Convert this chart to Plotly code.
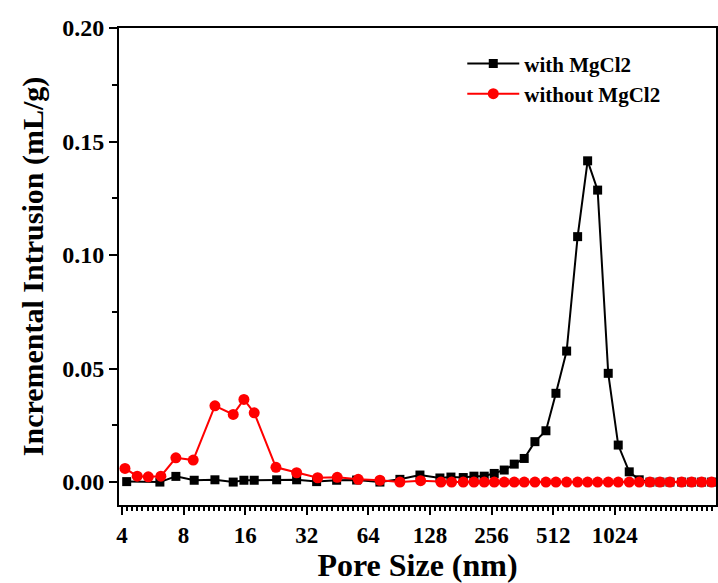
import numpy as np
import plotly.graph_objects as go

# Pore sizes (nm) and incremental intrusion (mL/g)
x_with = [4.22, 6.13, 7.34, 9.02, 11.39, 13.99, 15.78, 17.72, 22.81, 28.56, 35.77, 44.8,
          56.1, 72.9, 91.3, 114.4, 143.2, 162.1, 186.2, 210.0, 235.8, 263.9, 295.3, 330.5,
          369.8, 417.2, 472.1, 528.4, 596.0, 674.5, 754.8, 844.8, 951.8, 1065, 1205.5, 1349,
          1521.7, 1703, 1905.7, 2173.8, 2433, 2722, 3047]
y_with = [0.0002, 0.0000, 0.0025, 0.0008, 0.0010, 0.0000, 0.0008, 0.0008, 0.0010, 0.0010, 0.0002, 0.0008,
          0.0009, 0.0000, 0.0012, 0.0031, 0.0018, 0.0022, 0.0020, 0.0026, 0.0026, 0.0038, 0.0053, 0.0079,
          0.0104, 0.0178, 0.0226, 0.0391, 0.0577, 0.1081, 0.1415, 0.1286, 0.0479, 0.0163, 0.0045, 0.0010,
          0.0, 0.0, 0.0, 0.0, 0.0, 0.0, 0.0]

x_without = [4.14, 4.75, 5.38, 6.20, 7.34, 8.92, 11.39, 13.99, 15.78, 17.72, 22.63, 28.56, 36.18,
             45.10, 57.12, 72.9, 91.3, 115.3, 144.9, 163.4, 186.2, 210.0, 235.8, 263.9, 295.3,
             330.5, 369.8, 417.2, 472.1, 528.4, 596.0, 674.5, 754.8, 844.8, 951.8, 1065, 1205.5,
             1349, 1521.7, 1703, 1905.7, 2173.8, 2433, 2722, 3047]
y_without = [0.0060, 0.0026, 0.0023, 0.0026, 0.0107, 0.0097, 0.0336, 0.0298, 0.0364, 0.0305, 0.0065, 0.0041, 0.0019,
             0.0021, 0.0012, 0.0008, 0.0000, 0.0006, 0.0000, 0.0, 0.0, 0.0, 0.0, 0.0, 0.0,
             0.0, 0.0, 0.0, 0.0, 0.0, 0.0, 0.0, 0.0, 0.0, 0.0, 0.0, 0.0,
             0.0, 0.0, 0.0, 0.0, 0.0, 0.0, 0.0, 0.0]

x_ticks = [4, 8, 16, 32, 64, 128, 256, 512, 1024]
x_ticklabels = ["4", "8", "16", "32", "64", "128", "256", "512", "1024"]
y_ticks = [0.00, 0.05, 0.10, 0.15, 0.20]

FONT = "Liberation Serif"

fig = go.Figure()
fig.add_trace(go.Scatter(
    x=x_with, y=y_with, mode="lines+markers", name="with MgCl2",
    line=dict(color="black", width=2),
    marker=dict(symbol="square", size=9, color="black"),
))
fig.add_trace(go.Scatter(
    x=x_without, y=y_without, mode="lines+markers", name="without MgCl2",
    line=dict(color="#ff0000", width=2),
    marker=dict(symbol="circle", size=11, color="#ff0000"),
))

fig.update_layout(
    width=718, height=583,
    margin=dict(l=119, r=2, t=28, b=78),
    paper_bgcolor="white", plot_bgcolor="white",
    font=dict(family=FONT, color="black"),
    showlegend=True,
    legend=dict(
        x=0.575, y=0.968, xanchor="left", yanchor="top",
        bgcolor="rgba(0,0,0,0)",
        font=dict(family=FONT, size=21, color="black", weight="bold"),
        itemwidth=52, tracegroupgap=0,
    ),
)

fig.update_xaxes(
    type="log",
    range=[np.log10(3.87), np.log10(3200)],
    tickmode="array", tickvals=x_ticks, ticktext=x_ticklabels,
    ticks="outside", ticklen=8, tickwidth=2, tickcolor="black",
    showline=True, linecolor="black", linewidth=2, mirror=True,
    showgrid=False, zeroline=False, automargin=False,
    tickfont=dict(family=FONT, size=23, color="black", weight="bold"),
    minor=dict(tick0=np.log10(4), dtick=np.log10(2) / 12, ticks="outside", ticklen=4,
               tickwidth=1.5, tickcolor="black", showgrid=False),
    title=dict(text="Pore Size (nm)", font=dict(family=FONT, size=32, color="black", weight="bold"),
               standoff=6),
)

fig.update_yaxes(
    range=[-0.0101, 0.2],
    tickmode="array", tickvals=y_ticks, tickformat=".2f",
    ticks="outside", ticklen=8, tickwidth=2, tickcolor="black",
    showline=True, linecolor="black", linewidth=2, mirror=True,
    showgrid=False, zeroline=False, automargin=False,
    tickfont=dict(family=FONT, size=24, color="black", weight="bold"),
    minor=dict(tickmode="array", tickvals=[0.025, 0.075, 0.125, 0.175], ticks="outside",
               ticklen=5, tickwidth=1.5, tickcolor="black", showgrid=False),
    title=dict(text="Incremental Intrusion (mL/g)",
               font=dict(family=FONT, size=30, color="black", weight="bold"), standoff=10),
)

fig.write_html("out.html", config={"displayModeBar": False},
               post_script="document.body.style.margin='0';")
